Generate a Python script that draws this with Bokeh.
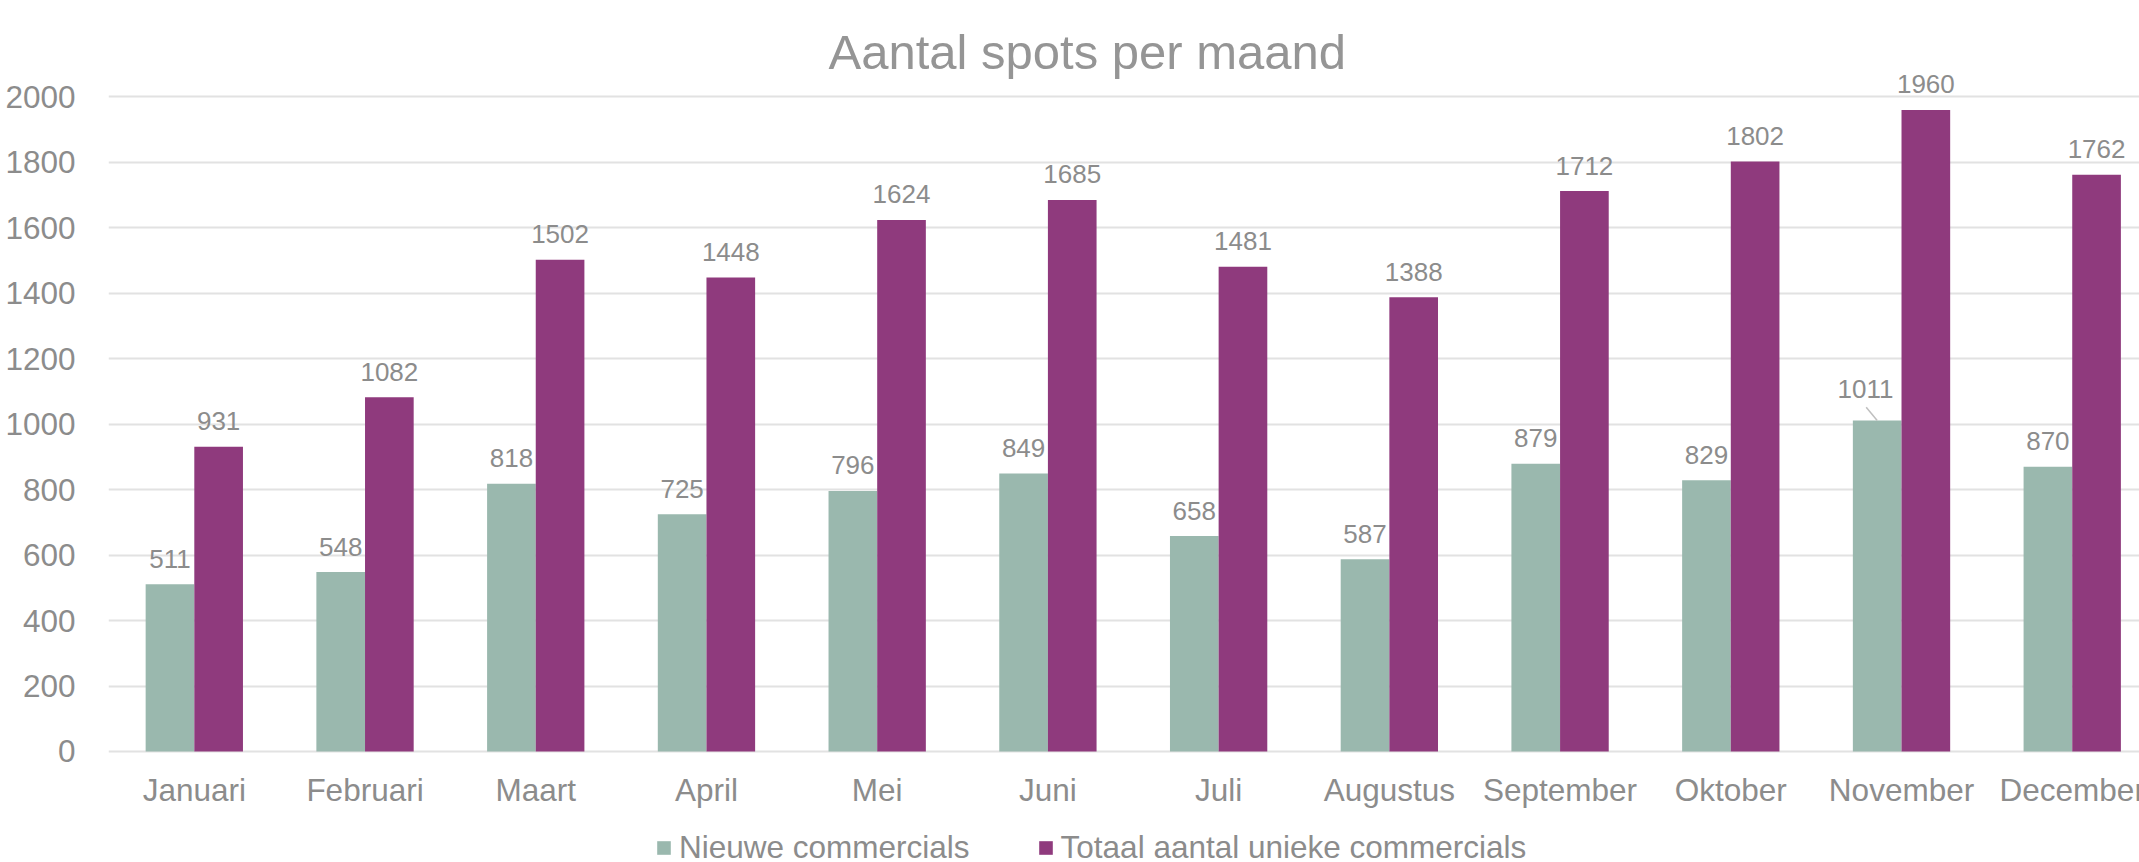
from bokeh.plotting import figure
from bokeh.models import (Range1d, FixedTicker, Legend, LegendItem, ColumnDataSource,
                          Label, LabelSet)
from bokeh.transform import dodge
from bokeh.core.properties import value
from bokeh.embed import file_html
from bokeh.resources import INLINE

# ---------------- data ----------------
title_text = "Aantal spots per maand"
months = ["Januari", "Februari", "Maart", "April", "Mei", "Juni", "Juli",
          "Augustus", "September", "Oktober", "November", "December"]
series_names = ["Nieuwe commercials", "Totaal aantal unieke commercials"]
nieuwe = [511, 548, 818, 725, 796, 849, 658, 587, 879, 829, 1011, 870]
totaal = [931, 1082, 1502, 1448, 1624, 1685, 1481, 1388, 1712, 1802, 1960, 1762]
y_ticks = [0, 200, 400, 600, 800, 1000, 1200, 1400, 1600, 1800, 2000]

# ---------------- style ----------------
GREEN = "#9AB8AE"
PURPLE = "#8F3A7D"
TXT = "#8C8C8C"
TITLE_C = "#959595"
GRID = "#E2E2E2"
FONT = "Liberation Sans"
W, H = 2139, 862
BORDER_L = 108
X_START, X_END = -0.5026, 11.394
Y_START, Y_END = -339.1, 2294.2
BAR_W = 0.285
DODGE = BAR_W / 2
LBL_GAP = 16.5
CAT_OFF = -49.5
# displaced label (index in nieuwe) : (dx px, dy px)
moved = {10: (-11.7, 22.4)}

frame_w = W - BORDER_L
frame_h = H
ux = (X_END - X_START) / frame_w   # data units per px
uy = (Y_END - Y_START) / frame_h

idx = list(range(len(months)))
src = ColumnDataSource(dict(
    idx=idx,
    month=months,
    base=[0] * len(idx),
    nieuwe=nieuwe,
    totaal=totaal,
    n_lbl=[str(v) for v in nieuwe],
    t_lbl=[str(v) for v in totaal],
    n_dx=[moved.get(i, (0, 0))[0] for i in idx],
    n_dy=[moved.get(i, (0, LBL_GAP))[1] for i in idx],
))

p = figure(width=W, height=H, output_backend="svg", toolbar_location=None,
           x_range=Range1d(X_START, X_END), y_range=Range1d(Y_START, Y_END),
           x_axis_location=None,
           min_border_left=BORDER_L, min_border_right=0,
           min_border_top=0, min_border_bottom=0,
           background_fill_color="white", border_fill_color="white",
           outline_line_color=None)

r_n = p.vbar(x=dodge("idx", -DODGE), top="nieuwe", width=BAR_W, source=src,
             fill_color=GREEN, line_color=None)
r_t = p.vbar(x=dodge("idx", DODGE), top="totaal", width=BAR_W, source=src,
             fill_color=PURPLE, line_color=None)

lbl_n = LabelSet(x=dodge("idx", -DODGE), y="nieuwe", text="n_lbl", source=src,
                 x_offset="n_dx", y_offset="n_dy",
                 text_align="center", text_baseline="alphabetic",
                 text_font=value(FONT), text_font_size="26px", text_color=TXT)
lbl_t = LabelSet(x=dodge("idx", DODGE), y="totaal", text="t_lbl", source=src,
                 y_offset=LBL_GAP,
                 text_align="center", text_baseline="alphabetic",
                 text_font=value(FONT), text_font_size="26px", text_color=TXT)
p.add_layout(lbl_n)
p.add_layout(lbl_t)

# category labels under the baseline
p.add_layout(LabelSet(x="idx", y="base", text="month", source=src,
                      y_offset=CAT_OFF, text_align="center",
                      text_baseline="alphabetic", text_font=value(FONT),
                      text_font_size="31.5px", text_color=TXT))

# leader line for displaced label
for i, (dx, dy) in moved.items():
    xb = idx[i] - DODGE
    p.segment(x0=[xb + (dx + 0.7) * ux], y0=[nieuwe[i] + 13.4 * uy],
              x1=[xb], y1=[nieuwe[i]],
              line_color="#BFBFBF", line_width=1.5)

# title
p.add_layout(Label(x=720, y=frame_h - 51.7, x_units="screen", y_units="screen",
                   text=title_text, text_align="left", text_baseline="alphabetic",
                   text_font=FONT, text_font_size="49px",
                   text_color=TITLE_C))

# y axis
p.yaxis.ticker = FixedTicker(ticks=y_ticks)
p.yaxis.major_tick_line_color = None
p.yaxis.minor_tick_line_color = None
p.yaxis.axis_line_color = None
p.yaxis.major_label_text_font = FONT
p.yaxis.major_label_text_font_size = "31.5px"
p.yaxis.major_label_text_color = TXT
p.yaxis.major_label_standoff = 27

p.xgrid.grid_line_color = None
p.ygrid.grid_line_color = GRID
p.ygrid.grid_line_width = 2

legend = Legend(items=[LegendItem(label=series_names[0], renderers=[r_n]),
                       LegendItem(label=series_names[1], renderers=[r_t])],
                orientation="horizontal", location=(547, -4),
                glyph_width=17, glyph_height=17, label_standoff=7, spacing=67,
                padding=0, margin=0, border_line_color=None,
                background_fill_alpha=0,
                label_text_font=FONT, label_text_font_size="31.5px",
                label_text_color=TXT)
p.add_layout(legend, "center")

open("out.html", "w").write(file_html(p, INLINE))
